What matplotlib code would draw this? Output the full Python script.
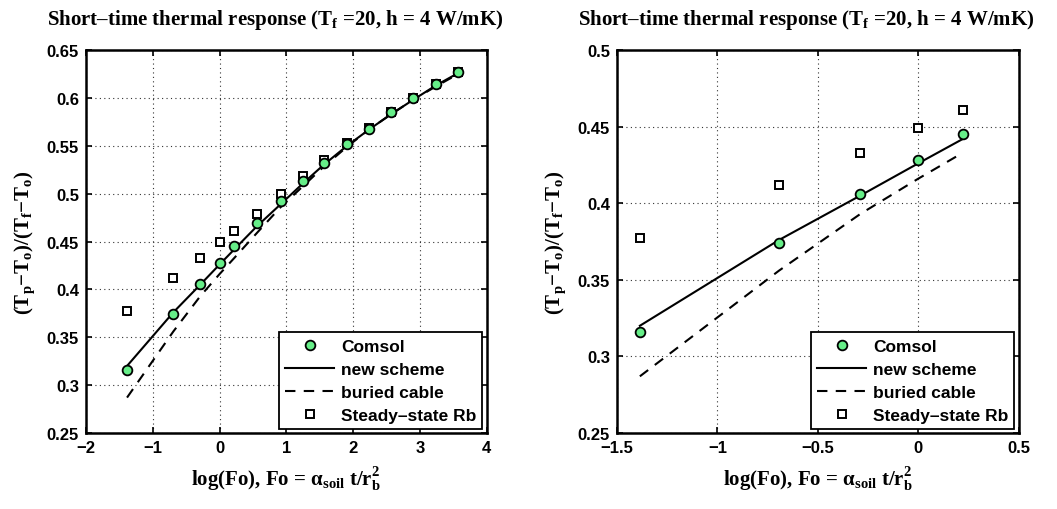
import matplotlib
matplotlib.use("Agg")
import matplotlib.pyplot as plt
from matplotlib.ticker import FuncFormatter

# data
log_fo = [-1.386, -0.693, -0.288, 0.0, 0.223, 0.56, 0.916, 1.253, 1.558,
          1.91, 2.24, 2.57, 2.90, 3.24, 3.575]
comsol = [0.316, 0.374, 0.406, 0.428, 0.445, 0.469, 0.492, 0.513, 0.532,
          0.552, 0.568, 0.585, 0.600, 0.614, 0.627]
new_scheme = [0.320, 0.376, 0.405, 0.426, 0.442, 0.466, 0.489, 0.511, 0.530,
              0.550, 0.567, 0.583, 0.598, 0.613, 0.626]
buried_cable = [0.287, 0.356, 0.393, 0.416, 0.433, 0.459, 0.486, 0.508, 0.528,
                0.549, 0.567, 0.583, 0.598, 0.612, 0.625]
steady_rb = [0.377, 0.412, 0.433, 0.449, 0.461, 0.479, 0.500, 0.518, 0.535,
             0.553, 0.569, 0.585, 0.600, 0.615, 0.627]

n_short = 5  # right panel shows only the first points

plt.rcParams['mathtext.fontset'] = 'custom'
plt.rcParams['mathtext.rm'] = 'Liberation Serif:bold'
plt.rcParams['mathtext.it'] = 'Liberation Serif:bold'
plt.rcParams['mathtext.bf'] = 'Liberation Serif:bold'

title_txt = r'Short–time thermal response (T$_{\mathrm{f}}$ =20, h = 4 W/mK)'
ylab = r'(T$_{\mathrm{p}}$−T$_{\mathrm{o}}$)/(T$_{\mathrm{f}}$−T$_{\mathrm{o}}$)'
xlab = r'log(Fo), Fo = $\alpha_{\mathrm{soil}}$ t/r$_{\mathrm{b}}^{2}$'

serif = dict(family='Liberation Serif', weight='bold', size=15)
sans = dict(family='Liberation Sans', weight='bold')

fig = plt.figure(figsize=(10.57, 5.10), dpi=100)
ax1 = fig.add_axes([0.0814, 0.149, 0.379, 0.751])
ax2 = fig.add_axes([0.5837, 0.149, 0.380, 0.751])


def fmt(v, pos):
    s = ('%.2f' % v).rstrip('0').rstrip('.')
    if s.startswith('-'):
        s = '\u2212' + s[1:]
    return s


def draw(ax, n, xlim, ylim, xt, yt):
    x = log_fo[:n]
    ax.plot(x, comsol[:n], 'o', ms=7, mfc='#66ee88', mec='k', mew=1.3,
            label='Comsol', zorder=5)
    ax.plot(x, new_scheme[:n], '-', color='k', lw=1.5, label='new scheme', zorder=4)
    ax.plot(x, buried_cable[:n], '--', color='k', lw=1.5, dashes=(5, 4),
            label='buried cable', zorder=4)
    ax.plot(x, steady_rb[:n], 's', ms=6, mfc='white', mec='k', mew=1.4,
            label='Steady\u2013state Rb', zorder=3)
    ax.set_xlim(xlim)
    ax.set_ylim(ylim)
    ax.set_xticks(xt)
    ax.set_yticks(yt)
    ax.xaxis.set_major_formatter(FuncFormatter(fmt))
    ax.yaxis.set_major_formatter(FuncFormatter(fmt))
    ax.grid(True, linestyle=(0, (1, 3)), color='#333333', lw=0.8)
    ax.tick_params(direction='in', length=4, width=1.2, top=True, right=True,
                   labelsize=12, pad=5)
    for lab in ax.get_xticklabels() + ax.get_yticklabels():
        lab.set_fontfamily('Liberation Sans')
        lab.set_fontweight('bold')
    for s in ax.spines.values():
        s.set_linewidth(1.8)
    ax.set_title(title_txt, fontdict=serif, pad=19, x=0.472)
    ax.set_xlabel(xlab, fontdict=serif, labelpad=7)
    ax.set_ylabel(ylab, fontdict=serif, labelpad=7)
    leg = ax.legend(loc='lower right', prop=dict(sans, size=12.5), fancybox=False,
                    framealpha=1, edgecolor='k', handlelength=2.8,
                    handletextpad=0.4, borderaxespad=0.25, labelspacing=0.45,
                    borderpad=0.35)
    leg.get_frame().set_linewidth(1.3)


draw(ax1, len(log_fo), (-2, 4), (0.25, 0.65), range(-2, 5),
     [0.25, 0.3, 0.35, 0.4, 0.45, 0.5, 0.55, 0.6, 0.65])
draw(ax2, n_short, (-1.5, 0.5), (0.25, 0.5), [-1.5, -1, -0.5, 0, 0.5],
     [0.25, 0.3, 0.35, 0.4, 0.45, 0.5])

fig.savefig('out.png', dpi=100)
